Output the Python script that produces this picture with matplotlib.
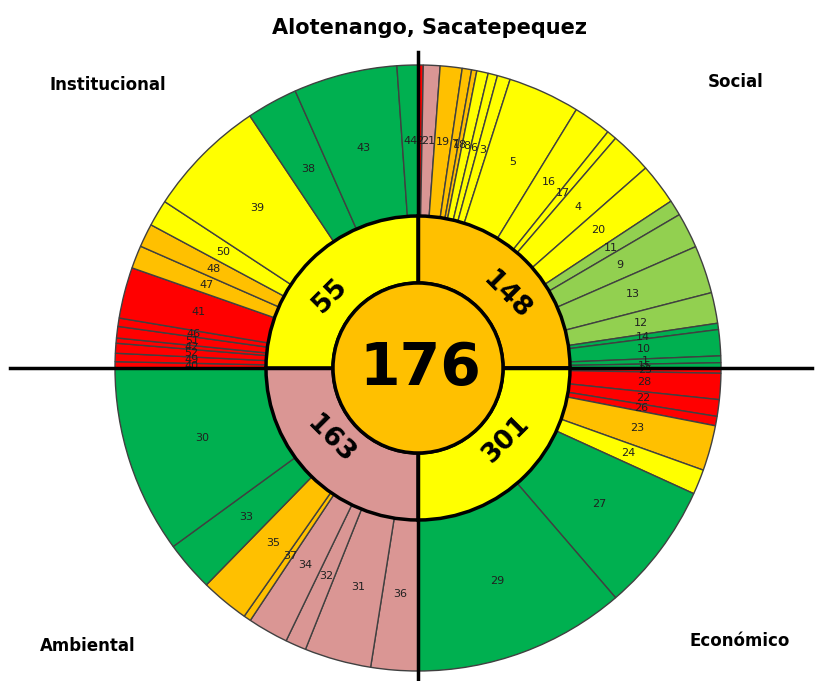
import numpy as np
import matplotlib.pyplot as plt
from matplotlib.patches import Wedge, Circle

# colores tipo semaforo
RED = "#FF0000"
ORANGE = "#FFC000"
YELLOW = "#FFFF00"
LGREEN = "#92D050"
GREEN = "#00B050"
PINK = "#DA9694"

# anillo exterior, cada cuadrante en sentido horario
social_ids = ["2", "21", "19", "7", "18", "8", "6", "3", "5", "16", "17", "4", "20",
              "11", "9", "13", "12", "14", "10", "1", "15"]
social_sizes = [1.0, 3.2, 4.2, 1.8, 1.0, 2.2, 1.8, 2.5, 13.8, 7.3, 1.9, 8.0, 7.9,
                3.0, 6.8, 9.2, 5.9, 1.2, 5.0, 1.3, 1.0]
social_colors = [RED, PINK, ORANGE, ORANGE, ORANGE, YELLOW, YELLOW, YELLOW, YELLOW,
                 YELLOW, YELLOW, YELLOW, YELLOW, LGREEN, LGREEN, LGREEN, LGREEN,
                 GREEN, GREEN, GREEN, GREEN]

econ_ids = ["25", "28", "22", "26", "23", "24", "27", "29"]
econ_sizes = [1.0, 5.0, 3.2, 1.8, 8.7, 4.8, 24.8, 40.7]
econ_colors = [RED, RED, RED, RED, ORANGE, YELLOW, GREEN, GREEN]

amb_ids = ["36", "31", "32", "34", "37", "35", "33", "30"]
amb_sizes = [9.0, 12.8, 4.0, 7.8, 1.4, 9.3, 9.6, 36.1]
amb_colors = [PINK, PINK, PINK, PINK, ORANGE, ORANGE, GREEN, GREEN]

inst_ids = ["40", "49", "52", "42", "51", "46", "41", "47", "48", "50", "39", "38", "43", "44"]
inst_sizes = [1.2, 1.6, 1.9, 1.0, 2.2, 1.6, 9.8, 4.4, 4.5, 5.1, 23.0, 9.8, 19.9, 4.0]
inst_colors = [RED, RED, RED, RED, RED, RED, RED, ORANGE, ORANGE, YELLOW, YELLOW,
               GREEN, GREEN, GREEN]

# anillo interior
dims = ["Social", "Económico", "Ambiental", "Institucional"]
dim_values = [148, 301, 163, 55]
dim_colors = [ORANGE, YELLOW, PINK, YELLOW]
total = 176

quadrants = [(social_ids, social_sizes, social_colors),
             (econ_ids, econ_sizes, econ_colors),
             (amb_ids, amb_sizes, amb_colors),
             (inst_ids, inst_sizes, inst_colors)]

W, H = 819, 681
cx, cy = 418, H - 368
r_out, r_mid, r_in = 303, 152, 85
edge = "#404040"

fig = plt.figure(figsize=(W / 100, H / 100), dpi=100)
ax = fig.add_axes([0, 0, 1, 1])
ax.set_xlim(0, W)
ax.set_ylim(0, H)
ax.axis("off")

# segmentos exteriores: angulo horario desde las 12
start = 0.0
for ids, sizes, colors in quadrants:
    scale = 90.0 / sum(sizes)
    for lab, s, c in zip(ids, sizes, colors):
        a1 = start
        a2 = start + s * scale
        w = Wedge((cx, cy), r_out, 90 - a2, 90 - a1, width=r_out - r_mid,
                  facecolor=c, edgecolor=edge, linewidth=1.0, zorder=1)
        ax.add_patch(w)
        mid = np.deg2rad(90 - (a1 + a2) / 2)
        ax.text(cx + 227 * np.cos(mid), cy + 227 * np.sin(mid), lab,
                ha="center", va="center", fontsize=8, color="#202020", zorder=3)
        start = a2

# anillo interior
rot = [-45, 45, -45, 45]
sx = [1, 1, -1, -1]
sy = [1, -1, -1, 1]
for i, (v, c) in enumerate(zip(dim_values, dim_colors)):
    a1 = i * 90
    a2 = a1 + 90
    w = Wedge((cx, cy), r_mid, 90 - a2, 90 - a1, width=r_mid - r_in,
              facecolor=c, edgecolor="black", linewidth=2.5, zorder=2)
    ax.add_patch(w)
    ax.text(cx + sx[i] * 88, cy + sy[i] * 72, str(v),
            ha="center", va="center", fontsize=19, fontweight="bold",
            rotation=rot[i], zorder=5)

# ejes negros
ax.plot([10, 812], [cy, cy], color="black", linewidth=2.5, zorder=4)
ax.plot([cx, cx], [0, H - 52], color="black", linewidth=2.5, zorder=4)

# circulo central
ax.add_patch(Circle((cx, cy), r_in, facecolor=ORANGE, edgecolor="black",
                    linewidth=2.5, zorder=6))
ax.text(cx + 2, cy, str(total), ha="center", va="center", fontsize=42,
        fontweight="bold", zorder=7)

ax.text(430, H - 28, "Alotenango, Sacatepequez", ha="center", va="center",
        fontsize=15, fontweight="bold")
ax.text(108, H - 85, "Institucional", ha="center", va="center", fontsize=12, fontweight="bold")
ax.text(736, H - 82, "Social", ha="center", va="center", fontsize=12, fontweight="bold")
ax.text(88, H - 646, "Ambiental", ha="center", va="center", fontsize=12, fontweight="bold")
ax.text(740, H - 641, "Económico", ha="center", va="center", fontsize=12, fontweight="bold")

fig.savefig("out.png", dpi=100)
